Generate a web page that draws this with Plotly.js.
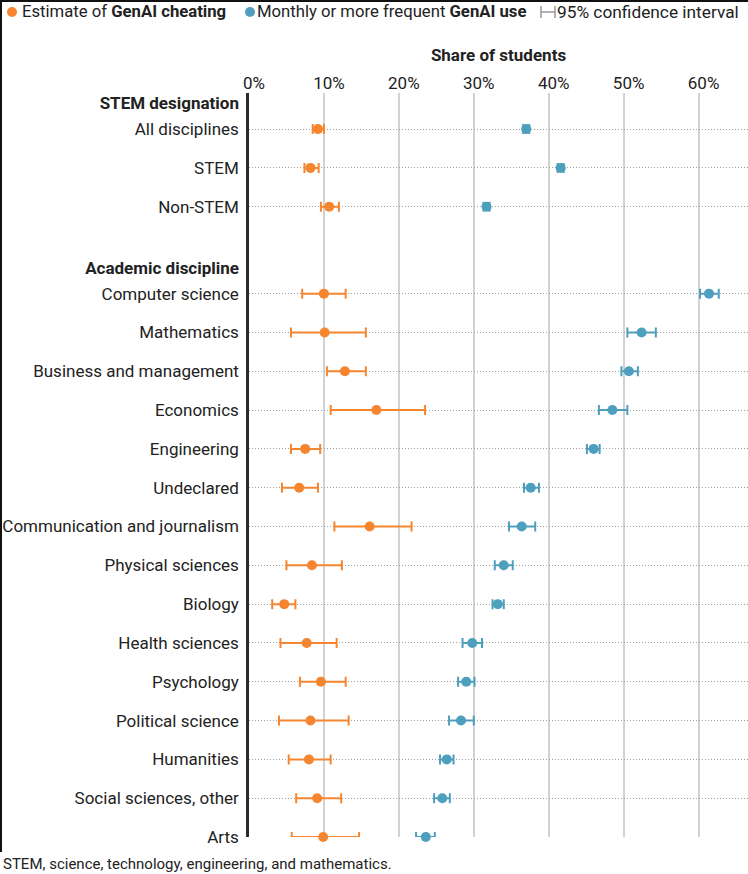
<!DOCTYPE html>
<html>
<head>
<meta charset="utf-8">
<script src="https://cdn.plot.ly/plotly-3.0.1.min.js"></script>
<style>
  html, body { margin: 0; padding: 0; background: #fff; }
  #plot { width: 748px; height: 874px; position: relative; }
  #edge-top { position: absolute; left: 0; top: 0; width: 748px; height: 2px; background: #111; z-index: 5; }
  #edge-left { position: absolute; left: 0; top: 0; width: 2px; height: 852px; background: #111; z-index: 5; }
</style>
</head>
<body>
<div id="edge-top"></div>
<div id="edge-left"></div>
<div id="plot"></div>
<script>
// groups of rows, top to bottom
const groupNames = ['STEM designation', 'Academic discipline'];
const groupSizes = [3, 15];

const categories = [
  'All disciplines', 'STEM', 'Non-STEM',
  'Computer science', 'Mathematics', 'Business and management', 'Economics',
  'Engineering', 'Undeclared', 'Communication and journalism', 'Physical sciences',
  'Biology', 'Health sciences', 'Psychology', 'Political science', 'Humanities',
  'Social sciences, other', 'Arts'
];

// estimate of GenAI cheating (%), with 95% CI
const cheat   = [9.2, 8.2, 10.7, 10.0, 10.1, 12.8, 17.0, 7.5, 6.7, 16.1, 8.4, 4.7, 7.7, 9.6, 8.2, 8.0, 9.1, 9.9];
const cheatLo = [8.5, 7.4, 9.6, 7.1, 5.6, 10.4, 10.9, 5.6, 4.4, 11.4, 5.0, 3.1, 4.2, 6.8, 4.0, 5.3, 6.3, 5.7];
const cheatHi = [10.0, 9.3, 12.0, 12.9, 15.6, 15.6, 23.5, 9.5, 9.2, 21.7, 12.4, 6.2, 11.7, 12.9, 13.3, 10.9, 12.3, 14.7];

// monthly or more frequent GenAI use (%), with 95% CI
const use   = [37.0, 41.6, 31.7, 61.4, 52.4, 50.7, 48.5, 46.0, 37.6, 36.4, 34.0, 33.2, 29.8, 29.0, 28.3, 26.4, 25.8, 23.6];
const useLo = [36.6, 41.2, 31.3, 60.2, 50.5, 49.7, 46.7, 45.1, 36.7, 34.7, 32.8, 32.5, 28.5, 27.9, 26.7, 25.5, 24.7, 22.3];
const useHi = [37.4, 42.0, 32.1, 62.7, 54.3, 51.9, 50.5, 46.8, 38.7, 38.2, 35.2, 34.0, 31.1, 30.1, 30.0, 27.3, 26.8, 24.8];

const xTicks = [0, 10, 20, 30, 40, 50, 60];
const xTickLabels = ['0%', '10%', '20%', '30%', '40%', '50%', '60%'];

const ORANGE = '#F5852F';
const BLUE = '#4E9FBE';
const FONT = 'Roboto, "Noto Sans", sans-serif';

// row positions: one unit per row, header sits a bit above its first row
const rowPos = [];
const headerPos = [];
let pos = 0;
groupSizes.forEach((n) => {
  headerPos.push(pos - 0.67);
  for (let i = 0; i < n; i++) rowPos.push(pos + i);
  pos += n + 1.24;
});

// pixel -> paper helpers for legend/caption placement
const M = { l: 249, r: 0, t: 93, b: 37 };
const W = 748, H = 874;
const pw = W - M.l - M.r, ph = H - M.t - M.b;
const px = (x) => (x - M.l) / pw;
const py = (y) => (H - M.b - y) / ph;

function ciTrace(vals, lo, hi, color, name) {
  return {
    type: 'scatter',
    mode: 'markers',
    name: name,
    x: vals,
    y: rowPos,
    text: categories,
    cliponaxis: false,
    showlegend: false,
    marker: { color: color, size: 10 },
    error_x: {
      type: 'data',
      symmetric: false,
      array: hi.map((h, i) => h - vals[i]),
      arrayminus: lo.map((l, i) => vals[i] - l),
      color: color,
      thickness: 2,
      width: 5
    },
    hovertemplate: '%{text}: %{x:.1f}%<extra>' + name + '</extra>'
  };
}

// invisible carrier so the header axis gets drawn
const headerTrace = {
  type: 'scatter',
  mode: 'markers',
  x: headerPos.map(() => null),
  y: headerPos,
  yaxis: 'y2',
  showlegend: false,
  hoverinfo: 'skip',
  marker: { opacity: 0 }
};

const traces = [
  headerTrace,
  ciTrace(cheat, cheatLo, cheatHi, ORANGE, 'Estimate of GenAI cheating'),
  ciTrace(use, useLo, useHi, BLUE, 'Monthly or more frequent GenAI use')
];

const yRange = [rowPos[rowPos.length - 1], -0.93];

const legendY = py(12);
const legendFont = { family: FONT, size: 16.7, color: '#222' };
const layout = {
  width: W,
  height: H,
  margin: M,
  paper_bgcolor: '#fff',
  plot_bgcolor: '#fff',
  font: { family: FONT, size: 17, color: '#222' },
  xaxis: {
    side: 'top',
    range: [0, 66.6],
    tickmode: 'array',
    tickvals: xTicks,
    ticktext: xTickLabels,
    ticklabelshift: 5,
    showgrid: true,
    gridcolor: '#d2d2d2',
    gridwidth: 1.5,
    zeroline: false,
    showline: false,
    ticks: '',
    tickfont: { family: FONT, size: 17, color: '#222' },
    title: { text: 'Share of students', font: { family: FONT, size: 17, weight: 700, color: '#222' }, standoff: 6 },
    fixedrange: true
  },
  yaxis: {
    range: yRange,
    tickmode: 'array',
    tickvals: rowPos,
    ticktext: categories,
    showgrid: true,
    gridcolor: '#a0a0a0',
    griddash: '1px,2px',
    gridwidth: 1,
    zeroline: false,
    showline: true,
    linecolor: '#2b2b2b',
    linewidth: 2.5,
    ticks: '',
    ticklabelstandoff: 4,
    tickfont: { family: FONT, size: 17, color: '#222' },
    fixedrange: true
  },
  yaxis2: {
    overlaying: 'y',
    side: 'left',
    anchor: 'x',
    range: yRange,
    tickmode: 'array',
    tickvals: headerPos,
    ticktext: groupNames,
    showgrid: false,
    zeroline: false,
    showline: false,
    ticks: '',
    ticklabelstandoff: 9,
    tickfont: { family: FONT, size: 17, weight: 700, color: '#222' },
    fixedrange: true
  },
  shapes: [
    // legend dots
    { type: 'circle', xref: 'paper', yref: 'paper', x0: px(7), x1: px(17), y0: py(17), y1: py(7), fillcolor: ORANGE, line: { width: 0 } },
    { type: 'circle', xref: 'paper', yref: 'paper', x0: px(245), x1: px(255), y0: py(17), y1: py(7), fillcolor: BLUE, line: { width: 0 } },
    // legend CI glyph
    { type: 'line', xref: 'paper', yref: 'paper', x0: px(541), x1: px(555), y0: legendY, y1: legendY, line: { color: '#999', width: 1.5 } },
    { type: 'line', xref: 'paper', yref: 'paper', x0: px(541), x1: px(541), y0: py(6), y1: py(18), line: { color: '#999', width: 1.5 } },
    { type: 'line', xref: 'paper', yref: 'paper', x0: px(555), x1: px(555), y0: py(6), y1: py(18), line: { color: '#999', width: 1.5 } }
  ],
  annotations: [
    { xref: 'paper', yref: 'paper', x: px(20), y: legendY, xanchor: 'left', yanchor: 'middle', showarrow: false,
      text: 'Estimate of <b>GenAI cheating</b>', font: legendFont },
    { xref: 'paper', yref: 'paper', x: px(255), y: legendY, xanchor: 'left', yanchor: 'middle', showarrow: false,
      text: 'Monthly or more frequent <b>GenAI use</b>', font: legendFont },
    { xref: 'paper', yref: 'paper', x: px(555), y: legendY, xanchor: 'left', yanchor: 'middle', showarrow: false,
      text: '95% confidence interval', font: { family: FONT, size: 17.3, color: '#222' } },
    { xref: 'paper', yref: 'paper', x: px(1), y: py(864), xanchor: 'left', yanchor: 'middle', showarrow: false,
      text: 'STEM, science, technology, engineering, and mathematics.', font: { family: FONT, size: 15, color: '#222' } }
  ],
  showlegend: false,
  hovermode: 'closest'
};

Plotly.newPlot('plot', traces, layout, { displayModeBar: false, responsive: false });
</script>
</body>
</html>
